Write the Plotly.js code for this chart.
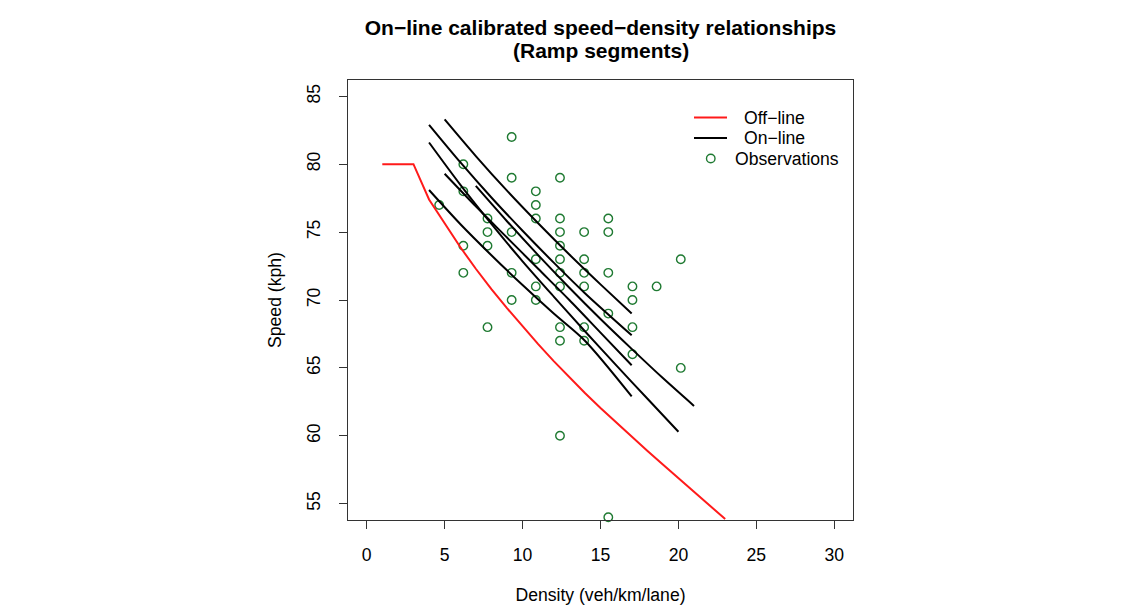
<!DOCTYPE html>
<html>
<head>
<meta charset="utf-8">
<script src="https://cdn.plot.ly/plotly-3.0.1.min.js"></script>
<style>html,body{margin:0;padding:0;background:#fff;}#chart{width:1148px;height:605px;}</style>
</head>
<body>
<div id="chart"></div>
<script>
// Observations (density veh/km/lane, speed kph)
const obsDensity = [4.65,
  6.2, 6.2, 6.2, 6.2,
  7.75, 7.75, 7.75, 7.75,
  9.3, 9.3, 9.3, 9.3, 9.3,
  10.85, 10.85, 10.85, 10.85, 10.85, 10.85,
  12.4, 12.4, 12.4, 12.4, 12.4, 12.4, 12.4, 12.4, 12.4, 12.4,
  13.95, 13.95, 13.95, 13.95, 13.95, 13.95,
  15.5, 15.5, 15.5, 15.5, 15.5,
  17.05, 17.05, 17.05, 17.05,
  18.6,
  20.15, 20.15];
const obsSpeed = [77,
  80, 78, 74, 72,
  76, 75, 74, 68,
  82, 79, 75, 72, 70,
  78, 77, 76, 73, 71, 70,
  79, 76, 75, 74, 73, 72, 71, 68, 67, 60,
  75, 73, 72, 71, 68, 67,
  76, 75, 72, 69, 54,
  71, 70, 68, 66,
  71,
  73, 65];

// Off-line calibrated relationship
const offDensity = [1, 3, 4, 5, 6, 7, 8, 9, 10, 11, 12, 13, 14, 15, 16, 17, 18, 19, 20, 21, 22, 23];
const offSpeed   = [80, 80, 77.4, 75.6, 73.9, 72.3, 70.8, 69.4, 68.05, 66.75, 65.5, 64.3, 63.15, 62.05, 60.98, 59.93, 58.9, 57.88, 56.87, 55.87, 54.87, 53.87];

// On-line calibrated relationships (one per ramp segment)
const onA_x = [5, 7, 9, 11, 13, 15, 17];
const onA_y = [83.3, 80.6, 78.05, 75.65, 73.35, 71.15, 69.0];
const onB_x = [4, 6, 8, 10, 12, 14, 17];
const onB_y = [82.9, 80.15, 77.55, 75.1, 72.75, 70.5, 67.4];
const onC_x = [7, 9, 11, 13, 15, 17, 19, 21];
const onC_y = [78.4, 75.8, 73.3, 70.9, 68.6, 66.4, 64.25, 62.2];
const onD_x = [5, 7, 9, 11, 13, 15, 17];
const onD_y = [79.3, 76.9, 74.6, 72.3, 70.0, 67.6, 65.2];
const onE_x = [4, 6, 8, 10, 12, 14, 16, 18, 20];
const onE_y = [81.6, 78.5, 75.6, 72.85, 70.25, 67.7, 65.2, 62.75, 60.3];
const onF_x = [4, 6, 8, 10, 12, 14, 17];
const onF_y = [78.1, 75.6, 73.3, 71.1, 69.0, 67.0, 62.9];

const onlineSets = [[onA_x, onA_y], [onB_x, onB_y], [onC_x, onC_y], [onD_x, onD_y], [onE_x, onE_y], [onF_x, onF_y]];

const xTicks = [0, 5, 10, 15, 20, 25, 30];
const yTicks = [55, 60, 65, 70, 75, 80, 85];

const legendLabels = ['Off\u2212line', 'On\u2212line', 'Observations'];
const titleLines = ['On\u2212line calibrated speed\u2212density relationships', '(Ramp segments)'];

const FONT = 'Liberation Sans, Arial, Helvetica, sans-serif';
const FS = 17.6;
const GREEN = '#1f7a32';
const RED = '#ff1a1a';

// plot area in pixels (for placing legend decorations)
const PL = 348, PR = 853, PT = 80, PB = 520;
const px = v => (v - PL) / (PR - PL);
const py = v => (PB - v) / (PB - PT);

const traces = [];
traces.push({
  x: obsDensity, y: obsSpeed, type: 'scatter', mode: 'markers', name: legendLabels[2],
  marker: {symbol: 'circle-open', size: 8.5, color: GREEN, line: {width: 1.4, color: GREEN}},
  cliponaxis: false, showlegend: false
});
traces.push({
  x: offDensity, y: offSpeed, type: 'scatter', mode: 'lines', name: legendLabels[0],
  line: {color: RED, width: 2}, showlegend: false
});
onlineSets.forEach((s) => {
  traces.push({
    x: s[0], y: s[1], type: 'scatter', mode: 'lines', name: legendLabels[1],
    line: {color: '#000000', width: 2, shape: 'spline', smoothing: 0.8},
    showlegend: false
  });
});

const axisCommon = {
  showline: true, linecolor: '#333', linewidth: 1, mirror: true,
  ticks: 'outside', ticklen: 8, tickwidth: 1, tickcolor: '#333',
  showgrid: false, zeroline: false,
  tickfont: {family: FONT, size: FS, color: '#000'}
};

// manual legend (R-style, no box)
const legRows = [117.5, 138, 158.5];
const shapes = [
  {type: 'line', xref: 'paper', yref: 'paper', x0: px(694), x1: px(727), y0: py(legRows[0]), y1: py(legRows[0]), line: {color: RED, width: 2}},
  {type: 'line', xref: 'paper', yref: 'paper', x0: px(694), x1: px(727), y0: py(legRows[1]), y1: py(legRows[1]), line: {color: '#000', width: 2}},
  {type: 'circle', xref: 'paper', yref: 'paper', x0: px(706.5), x1: px(715), y0: py(legRows[2] + 4.25), y1: py(legRows[2] - 4.25), line: {color: GREEN, width: 1.4}}
];
const annotations = [
  {text: legendLabels[0], x: px(742), y: py(legRows[0]), xref: 'paper', yref: 'paper', xanchor: 'left', yanchor: 'middle', showarrow: false, font: {family: FONT, size: FS, color: '#000'}},
  {text: legendLabels[1], x: px(742), y: py(legRows[1]), xref: 'paper', yref: 'paper', xanchor: 'left', yanchor: 'middle', showarrow: false, font: {family: FONT, size: FS, color: '#000'}},
  {text: legendLabels[2], x: px(733), y: py(legRows[2]), xref: 'paper', yref: 'paper', xanchor: 'left', yanchor: 'middle', showarrow: false, font: {family: FONT, size: FS, color: '#000'}},
  {text: '<b>' + titleLines[1] + '</b>', x: 0.5, y: py(50), xref: 'paper', yref: 'paper', xanchor: 'center', yanchor: 'middle', showarrow: false, font: {family: FONT, size: 21, color: '#000'}}
];

const layout = {
  width: 1148, height: 605,
  margin: {l: PL, r: 1148 - PR, t: PT, b: 605 - PB},
  paper_bgcolor: '#fff', plot_bgcolor: '#fff',
  font: {family: FONT, color: '#000'},
  title: {
    text: '<b>' + titleLines[0] + '</b>',
    font: {family: FONT, size: 21, color: '#000'},
    x: (PL + PR) / 2 / 1148, xanchor: 'center', xref: 'container',
    y: 1 - 28 / 605, yanchor: 'middle', yref: 'container'
  },
  xaxis: Object.assign({}, axisCommon, {
    range: [-1.2, 31.2], tickvals: xTicks, ticktext: xTicks.map(String),
    ticklabelstandoff: 11,
    title: {text: 'Density (veh/km/lane)', font: {family: FONT, size: FS, color: '#000'}, standoff: 24}
  }),
  yaxis: Object.assign({}, axisCommon, {
    range: [53.8, 86.2], tickvals: yTicks, ticktext: yTicks.map(String),
    tickangle: -90, ticklabelstandoff: 12,
    title: {text: 'Speed (kph)', font: {family: FONT, size: FS, color: '#000'}, standoff: 17}
  }),
  showlegend: false,
  shapes: shapes,
  annotations: annotations
};

Plotly.newPlot('chart', traces, layout, {displayModeBar: false, staticPlot: true});
</script>
</body>
</html>
